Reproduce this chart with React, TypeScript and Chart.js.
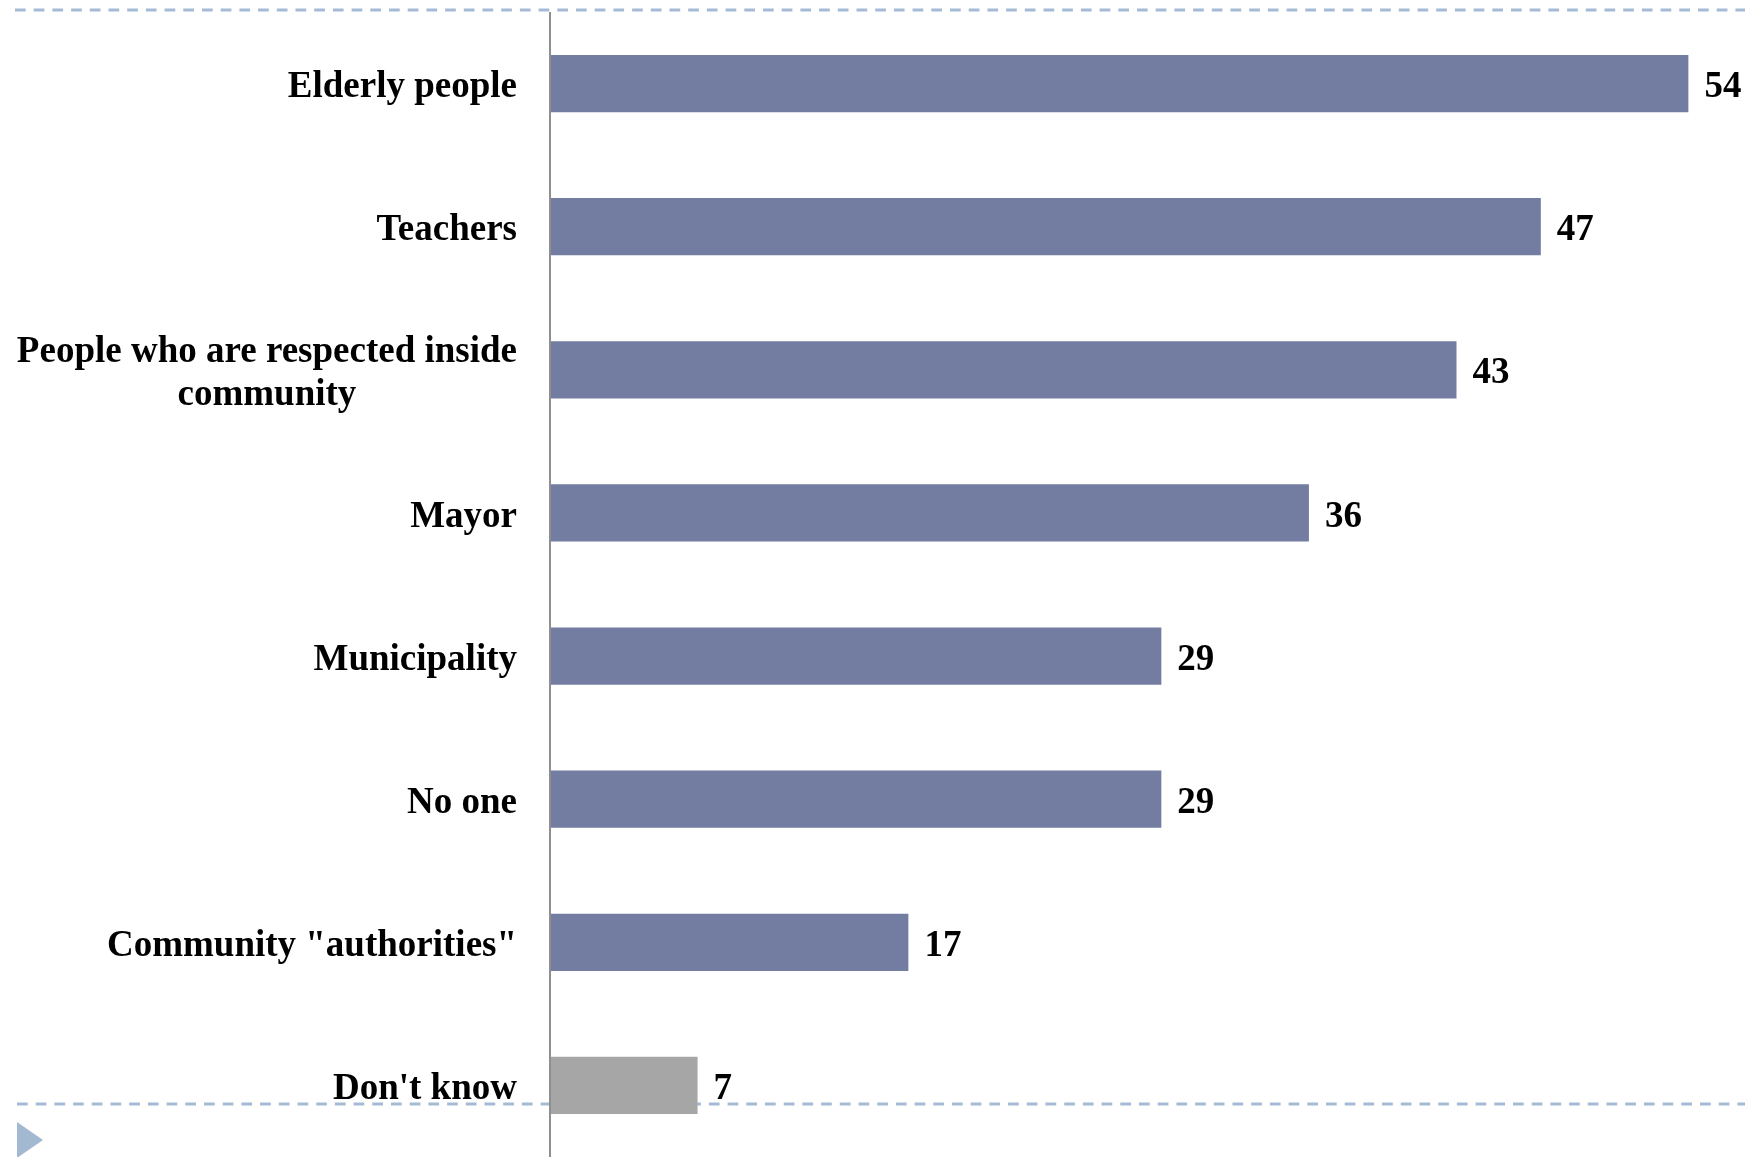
import React, { useEffect, useRef } from "react";
import { Chart, registerables } from "chart.js";

Chart.register(...registerables);

const categories: string[][] = [
  ["Elderly people"],
  ["Teachers"],
  ["People who are respected inside", "community"],
  ["Mayor"],
  ["Municipality"],
  ["No one"],
  ["Community \"authorities\""],
  ["Don't know"],
];
const values: number[] = [54, 47, 43, 36, 29, 29, 17, 7];
const valueLabels: string[] = ["54", "47", "43", "36", "29", "29", "17", "7"];

const W = 1759;
const H = 1157;
const FONT = 'bold 37px "Liberation Serif", "Times New Roman", serif';
const BLUE = "#737ca1";
const GRAY = "#a6a6a6";
const DASH = "#a5bbd5";

const decorPlugin = {
  id: "decor",
  beforeDatasetsDraw(chart: any) {
    const ctx = chart.ctx as CanvasRenderingContext2D;
    const area = chart.chartArea;
    ctx.save();
    // dashed rules
    ctx.strokeStyle = DASH;
    ctx.lineWidth = 3;
    ctx.setLineDash([10.7, 8]);
    ctx.beginPath();
    ctx.moveTo(15, 10);
    ctx.lineTo(1745, 10);
    ctx.moveTo(17, 1104);
    ctx.lineTo(1745, 1104);
    ctx.stroke();
    ctx.setLineDash([]);
    // triangle marker
    ctx.fillStyle = "#a2b9d1";
    ctx.beginPath();
    ctx.moveTo(17, 1122);
    ctx.lineTo(43, 1140);
    ctx.lineTo(17, 1158);
    ctx.closePath();
    ctx.fill();
    // category labels
    const yScale = chart.scales.y;
    ctx.font = FONT;
    ctx.fillStyle = "#000";
    ctx.textBaseline = "middle";
    ctx.textAlign = "center";
    const right = area.left - 33;
    const lh = 43;
    categories.forEach((lines, i) => {
      const yc = yScale.getPixelForValue(i);
      const maxW = Math.max(...lines.map((l) => ctx.measureText(l).width));
      const cx = right - maxW / 2;
      const y0 = yc - ((lines.length - 1) * lh) / 2;
      lines.forEach((l, j) => ctx.fillText(l, cx, y0 + j * lh + 4));
    });
    ctx.restore();
  },
  afterDatasetsDraw(chart: any) {
    const ctx = chart.ctx as CanvasRenderingContext2D;
    const area = chart.chartArea;
    ctx.save();
    // axis line
    ctx.strokeStyle = "#8f8f8f";
    ctx.lineWidth = 2;
    ctx.beginPath();
    ctx.moveTo(area.left, 12);
    ctx.lineTo(area.left, H);
    ctx.stroke();
    // value labels
    const meta = chart.getDatasetMeta(0);
    ctx.font = FONT;
    ctx.fillStyle = "#000";
    ctx.textBaseline = "middle";
    ctx.textAlign = "left";
    meta.data.forEach((bar: any, i: number) => {
      ctx.fillText(valueLabels[i], bar.x + 16, bar.y + 4);
    });
    ctx.restore();
  },
};

export default function App() {
  const ref = useRef<HTMLCanvasElement | null>(null);
  useEffect(() => {
    if (!ref.current) return;
    const chart = new Chart(ref.current, {
      type: "bar",
      data: {
        labels: categories.map((c) => c.join(" ")),
        datasets: [
          {
            data: values,
            backgroundColor: categories.map((c) =>
              c[0] === "Don't know" ? GRAY : BLUE
            ),
            borderWidth: 0,
            barPercentage: 0.4,
            categoryPercentage: 1,
          },
        ],
      },
      options: {
        indexAxis: "y",
        responsive: false,
        animation: false,
        layout: { padding: { left: 550, top: 12, right: 0, bottom: 0 } },
        plugins: {
          legend: { display: false },
          tooltip: { enabled: false },
          title: { display: false },
        },
        scales: {
          x: { display: false, min: 0, max: 57.35 },
          y: { display: false },
        },
      },
      plugins: [decorPlugin],
    });
    return () => chart.destroy();
  }, []);
  return (
    <div style={{ position: "fixed", left: 0, top: 0, width: W, height: H, background: "#fff" }}>
      <canvas ref={ref} width={W} height={H} style={{ display: "block" }} />
    </div>
  );
}
